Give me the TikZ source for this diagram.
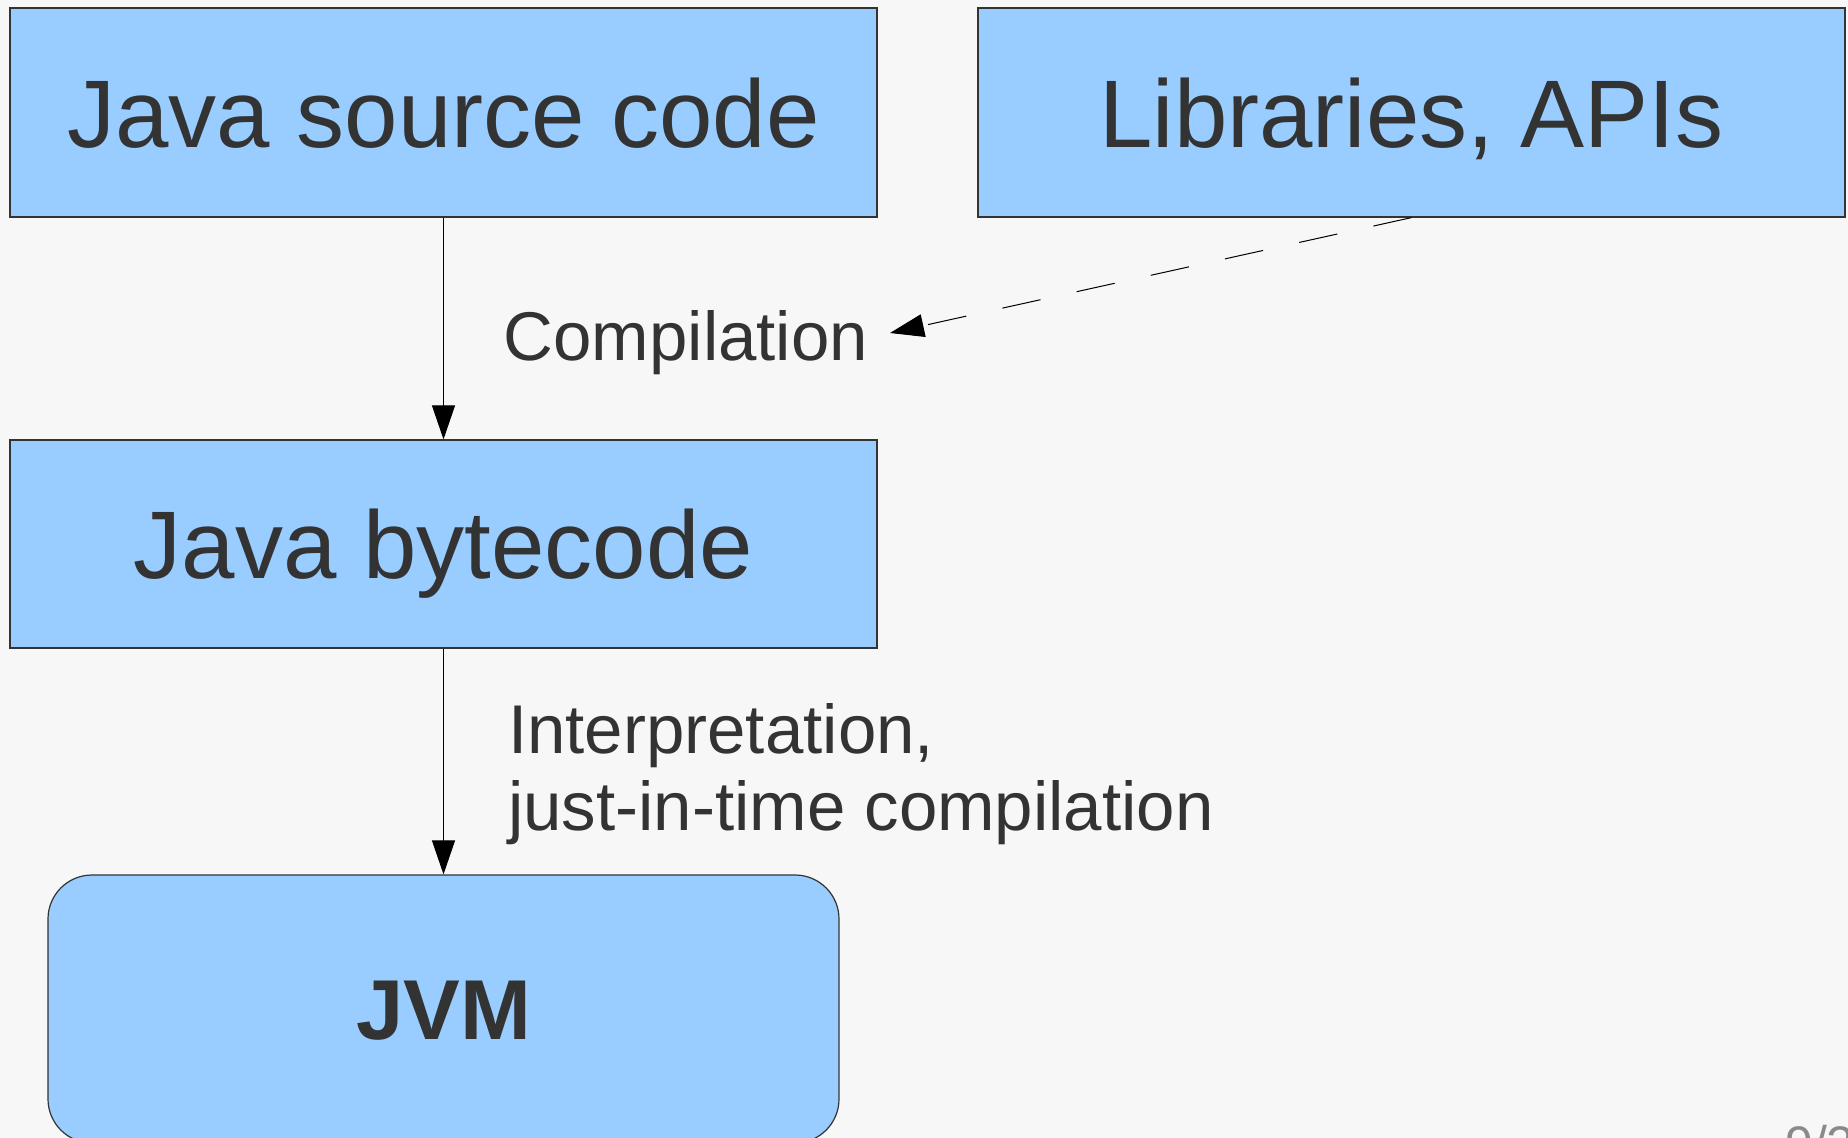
\documentclass[tikz,border=0pt]{standalone}
\usepackage{fontspec}
\setmainfont{Liberation Sans}
\usetikzlibrary{arrows.meta}
\definecolor{bg}{HTML}{F7F7F7}
\definecolor{boxblue}{HTML}{99CCFF}
\definecolor{txt}{HTML}{333333}
\definecolor{pgnum}{HTML}{8A8A8A}
\begin{document}
\begin{tikzpicture}[x=1pt,y=-1pt,
  box/.style={draw=txt, line width=1.2pt, fill=boxblue, inner sep=0pt, text=txt,
    font=\fontsize{96}{110}\selectfont, text height=69pt, text depth=0pt},
  lbl/.style={inner sep=0pt, text=txt, font=\fontsize{69}{77}\selectfont, anchor=base west},
  conn/.style={draw=black, line width=1pt, -{Triangle[length=34pt,width=23pt]}}]
\fill[bg] (0,0) rectangle (1848,1138);
\useasboundingbox (0,0) rectangle (1848,1138);
\clip (0,0) rectangle (1848,1138);
\node[box, minimum width=867pt, minimum height=209pt] (src) at (443.5,112.5) {Java source code};
\node[box, minimum width=867pt, minimum height=209pt] (lib) at (1411.5,112.5) {Libraries, APIs};
\node[box, minimum width=867pt, minimum height=208pt] (byte) at (443.5,544) {Java bytecode};
\node[box, minimum width=791pt, minimum height=268pt, rounded corners=44pt,
  font=\fontsize{85}{100}\selectfont\bfseries, text height=61pt] (jvm) at (443.5,1009) {JVM};
\node[lbl] (comp) at (503.5,360) {Compilation};
\node[lbl, align=left] (interp) at (508,830) {Interpretation,\\just-in-time compilation};
\coordinate (ctip) at (890,333);
\draw[conn] (src.south) -- (byte.north);
\draw[conn] (byte.south) -- (jvm.north);
\draw[conn, dash pattern=on 39pt off 37pt] (lib.south) -- (ctip);
\node[inner sep=0pt, anchor=base west, text=pgnum, font=\fontsize{50}{60}\selectfont] (pg) at (1785,1161) {9/2};
\end{tikzpicture}
\end{document}
